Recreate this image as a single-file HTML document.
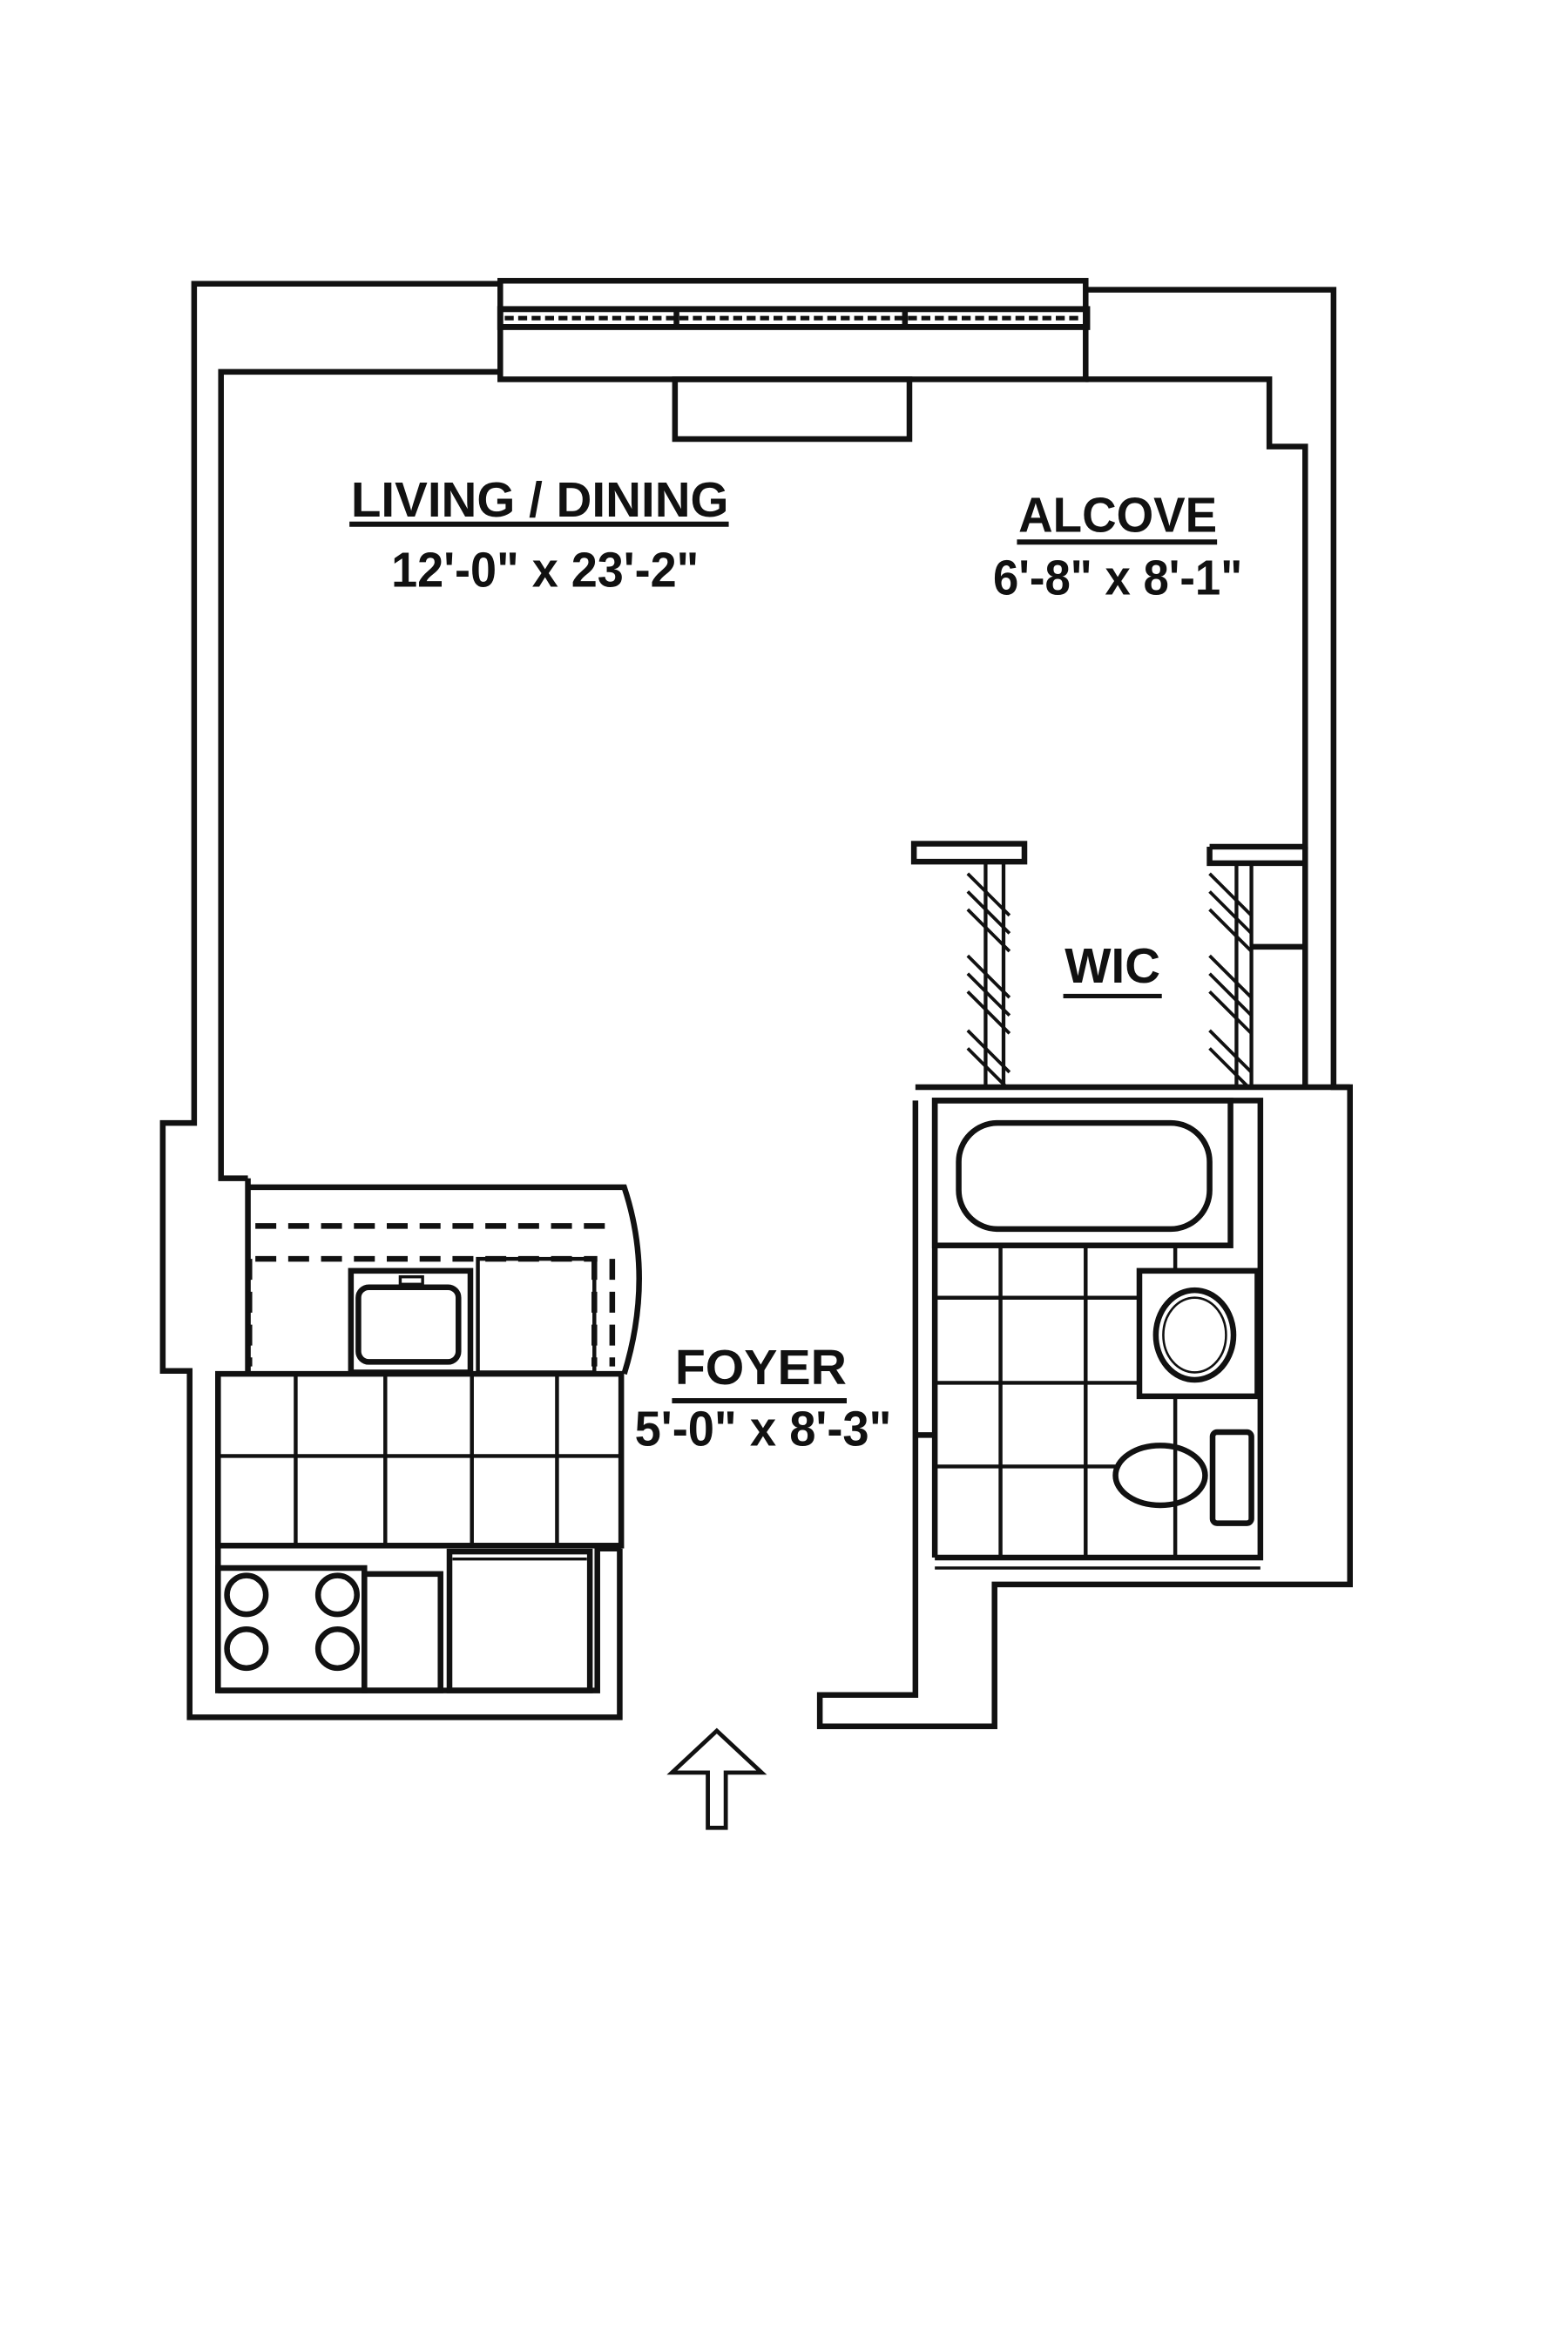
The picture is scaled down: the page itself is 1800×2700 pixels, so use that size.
<!DOCTYPE html>
<html><head><meta charset="utf-8"><style>
html,body{margin:0;padding:0;background:#fff;}
svg{display:block}
text{font-family:"Liberation Sans",sans-serif;fill:#111;font-weight:bold;}
</style></head><body>
<svg width="1800" height="2700" viewBox="0 0 1050 1575" xmlns="http://www.w3.org/2000/svg">
<g fill="none" stroke="#111" stroke-width="3.8" stroke-linejoin="miter">
<polyline points="335,190 130,190 130,752 109,752 109,918 127,918 127,1150 415,1150 415,1037"/>
<polyline points="728,194 893,194 893,728 904,728 904,1061 666,1061 666,1156 549,1156 549,1135 613,1135 613,737"/>
<polyline points="335,249 148,249 148,789 166,789"/>
<polyline points="727,254 850,254 850,299 874,299 874,567 810,567"/>
<rect x="335" y="188" width="392" height="66"/>
<rect x="335" y="207" width="393" height="12" stroke-width="4"/>
<line x1="338" y1="213" x2="725" y2="213" stroke-width="3" stroke-dasharray="6,3"/>
<line x1="453" y1="207" x2="453" y2="219"/>
<line x1="606" y1="207" x2="606" y2="219"/>
<rect x="452" y="254" width="157" height="40"/>
<path d="M166,795 L418,795 Q438,855 418,920"/>
<line x1="166" y1="789" x2="166" y2="920"/>
<line x1="171" y1="821" x2="412" y2="821" stroke-dasharray="14,8"/>
<line x1="171" y1="843" x2="400" y2="843" stroke-dasharray="14,8"/>
<line x1="167" y1="843" x2="167" y2="915" stroke-dasharray="14,8"/>
<line x1="398" y1="843" x2="398" y2="915" stroke-dasharray="14,8"/>
<line x1="410" y1="843" x2="410" y2="915" stroke-dasharray="14,8"/>
<rect x="235" y="851" width="80" height="68"/>
<rect x="240" y="862" width="67" height="50" rx="7"/>
<rect x="268" y="855" width="15" height="5" stroke-width="2"/>
<rect x="320" y="843" width="78" height="76" stroke-width="2.6"/>
<rect x="146" y="920" width="270" height="115"/>
<g stroke-width="2.6">
<line x1="198" y1="920" x2="198" y2="1035"/><line x1="258" y1="920" x2="258" y2="1035"/>
<line x1="316" y1="920" x2="316" y2="1035"/><line x1="373" y1="920" x2="373" y2="1035"/>
<line x1="146" y1="975" x2="416" y2="975"/>
</g>
<line x1="146" y1="920" x2="146" y2="1132"/>
<polyline points="146,1132 400,1132 400,1037 416,1037"/>
<rect x="146" y="1050" width="98" height="82"/>
<circle cx="165" cy="1068" r="13"/><circle cx="226" cy="1068" r="13"/>
<circle cx="165" cy="1104" r="13"/><circle cx="226" cy="1104" r="13"/>
<rect x="244" y="1054" width="51" height="78"/>
<rect x="301" y="1039" width="94" height="93"/>
<line x1="303" y1="1044" x2="393" y2="1044" stroke-width="2"/>
<polyline points="613,728 904,728"/>
<polyline points="626,1043 626,737 844,737 844,1043 626,1043"/>
<line x1="626" y1="1050" x2="844" y2="1050" stroke-width="2"/>
<line x1="613" y1="961" x2="626" y2="961"/>
<rect x="626" y="737" width="198" height="97"/>
<rect x="642" y="752" width="168" height="71" rx="26"/>
<g stroke-width="2.6">
<line x1="670" y1="834" x2="670" y2="1043"/><line x1="727" y1="834" x2="727" y2="1043"/>
<line x1="787" y1="834" x2="787" y2="851"/><line x1="787" y1="935" x2="787" y2="1043"/>
<line x1="626" y1="869" x2="763" y2="869"/><line x1="626" y1="926" x2="763" y2="926"/>
<line x1="626" y1="982" x2="750" y2="982"/>
</g>
<rect x="763" y="851" width="79" height="84"/>
<ellipse cx="800" cy="894" rx="26" ry="30"/>
<ellipse cx="800" cy="894" rx="21" ry="25" stroke-width="1.5"/>
<ellipse cx="777" cy="988" rx="30" ry="20"/>
<rect x="812" y="959" width="26" height="61" rx="3"/>
<rect x="612" y="565" width="74" height="12"/>
<line x1="660" y1="577" x2="660" y2="728" stroke-width="2.5"/>
<line x1="672" y1="577" x2="672" y2="728" stroke-width="2.5"/>
<polyline points="810,567 810,578 874,578"/>
<line x1="828" y1="578" x2="828" y2="728" stroke-width="2.5"/>
<line x1="838" y1="578" x2="838" y2="728" stroke-width="2.5"/>
<line x1="838" y1="634" x2="874" y2="634"/>
<line x1="874" y1="567" x2="874" y2="728"/>
<g stroke-width="2.2">
<path d="M648,585 l28,28 M648,597 l28,28 M648,609 l28,28 M648,640 l28,28 M648,652 l28,28 M648,664 l28,28 M648,690 l28,28 M648,702 l26,26"/>
<path d="M810,585 l28,28 M810,597 l28,28 M810,609 l28,28 M810,640 l28,28 M810,652 l28,28 M810,664 l28,28 M810,690 l28,28 M810,702 l26,26"/>
</g>
<line x1="234" y1="351" x2="488" y2="351" stroke-width="3.5"/>
<line x1="681" y1="363" x2="815" y2="363" stroke-width="3.5"/>
<line x1="712" y1="667" x2="778" y2="667" stroke-width="3"/>
<line x1="450" y1="938" x2="567" y2="938" stroke-width="3.5"/>
<path d="M480,1159 L450,1187 L474,1187 L474,1224 L486,1224 L486,1187 L510,1187 Z" stroke-width="2.8"/>
</g>
<g font-size="33">
<text x="235" y="346" textLength="253" lengthAdjust="spacingAndGlyphs">LIVING / DINING</text>
<text x="262" y="393" textLength="206" lengthAdjust="spacingAndGlyphs">12'-0" x 23'-2"</text>
<text x="682" y="356" textLength="133" lengthAdjust="spacingAndGlyphs">ALCOVE</text>
<text x="665" y="398" textLength="167" lengthAdjust="spacingAndGlyphs">6'-8" x 8'-1"</text>
<text x="713" y="658" textLength="64" lengthAdjust="spacingAndGlyphs">WIC</text>
<text x="452" y="927" textLength="115" lengthAdjust="spacingAndGlyphs">FOYER</text>
<text x="425" y="968" textLength="172" lengthAdjust="spacingAndGlyphs">5'-0" x 8'-3"</text>
</g>
</svg>
</body></html>
